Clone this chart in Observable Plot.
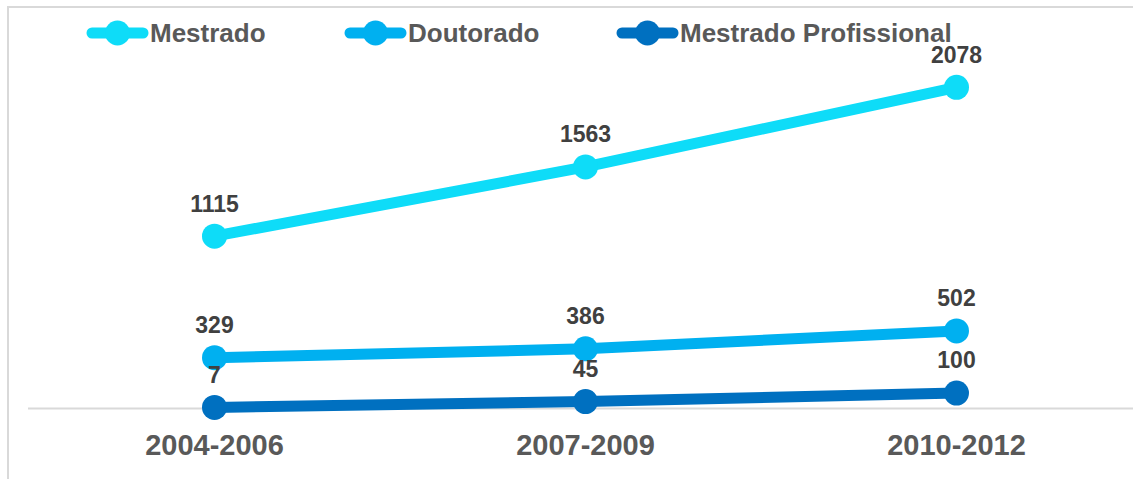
<!DOCTYPE html>
<html>
<head>
<meta charset="utf-8">
<script src="https://cdn.jsdelivr.net/npm/d3@7"></script>
<script src="https://cdn.jsdelivr.net/npm/@observablehq/plot@0.6"></script>
<style>
  html, body { margin: 0; padding: 0; background: #fff; }
  #wrap { position: relative; width: 1133px; height: 479px; overflow: hidden; font-family: "Liberation Sans", Arial, sans-serif; }
  #frameTop { position: absolute; left: 7px; top: 6px; width: 1126px; height: 2px; background: #d9d9d9; }
  #frameLeft { position: absolute; left: 7px; top: 6px; width: 2px; height: 473px; background: #d9d9d9; }
  #legend { position: absolute; left: 0; top: 0; width: 1133px; height: 60px; }
  #chart { position: absolute; left: 0; top: 0; }
</style>
</head>
<body>
<div id="wrap">
  <div id="frameTop"></div>
  <div id="frameLeft"></div>
  <div id="chart"></div>
  <svg id="legend" width="1133" height="60"></svg>
</div>
<script>
const periods = ["2004-2006", "2007-2009", "2010-2012"];
const seriesNames = ["Mestrado", "Doutorado", "Mestrado Profissional"];
const mestrado = [1115, 1563, 2078];
const doutorado = [329, 386, 502];
const mestradoProfissional = [7, 45, 100];
const seriesColors = ["#0edcf8", "#00b0f0", "#0070c0"];

const valuesBySeries = [mestrado, doutorado, mestradoProfissional];
const data = [];
seriesNames.forEach((s, i) => {
  periods.forEach((p, j) => data.push({series: s, period: p, value: valuesBySeries[i][j]}));
});

const chart = Plot.plot({
  width: 1133,
  height: 479,
  marginLeft: 28,
  marginRight: 0,
  marginTop: 68,
  marginBottom: 71,
  style: {fontFamily: "'Liberation Sans', Arial, sans-serif", background: "transparent", overflow: "visible"},
  x: {type: "point", domain: periods, range: [213, 956], padding: 0, label: null},
  y: {domain: [0, 2200], axis: null},
  color: {domain: seriesNames, range: seriesColors},
  marks: [
    Plot.ruleY([0], {stroke: "#d9d9d9", strokeWidth: 2}),
    Plot.axisX({tickSize: 0, tickPadding: 26, fontSize: 29, fontWeight: "bold", fill: "#595959", label: null}),
    Plot.line(data, {x: "period", y: "value", z: "series", stroke: "series", strokeWidth: 11}),
    Plot.dot(data, {x: "period", y: "value", fill: "series", r: 12.5}),
    Plot.text(data, {x: "period", y: "value", text: d => String(d.value), dy: -32, fontSize: 23, fontWeight: "bold", fill: "#404040"})
  ]
});
document.getElementById("chart").appendChild(chart);

// legend
const legendX = [87, 345, 617];
const leg = d3.select("#legend");
seriesNames.forEach((s, i) => {
  const g = leg.append("g").attr("transform", `translate(${legendX[i]},33)`);
  g.append("line").attr("x1", 5).attr("x2", 56).attr("y1", 0).attr("y2", 0)
    .attr("stroke", seriesColors[i]).attr("stroke-width", 11).attr("stroke-linecap", "round");
  g.append("circle").attr("cx", 30.5).attr("cy", 0).attr("r", 12.5).attr("fill", seriesColors[i]);
  g.append("text").attr("x", 63).attr("y", 0).attr("dy", "0.35em")
    .attr("font-family", "'Liberation Sans', Arial, sans-serif")
    .attr("font-size", 26).attr("font-weight", "bold").attr("fill", "#595959").text(s);
});
</script>
</body>
</html>
